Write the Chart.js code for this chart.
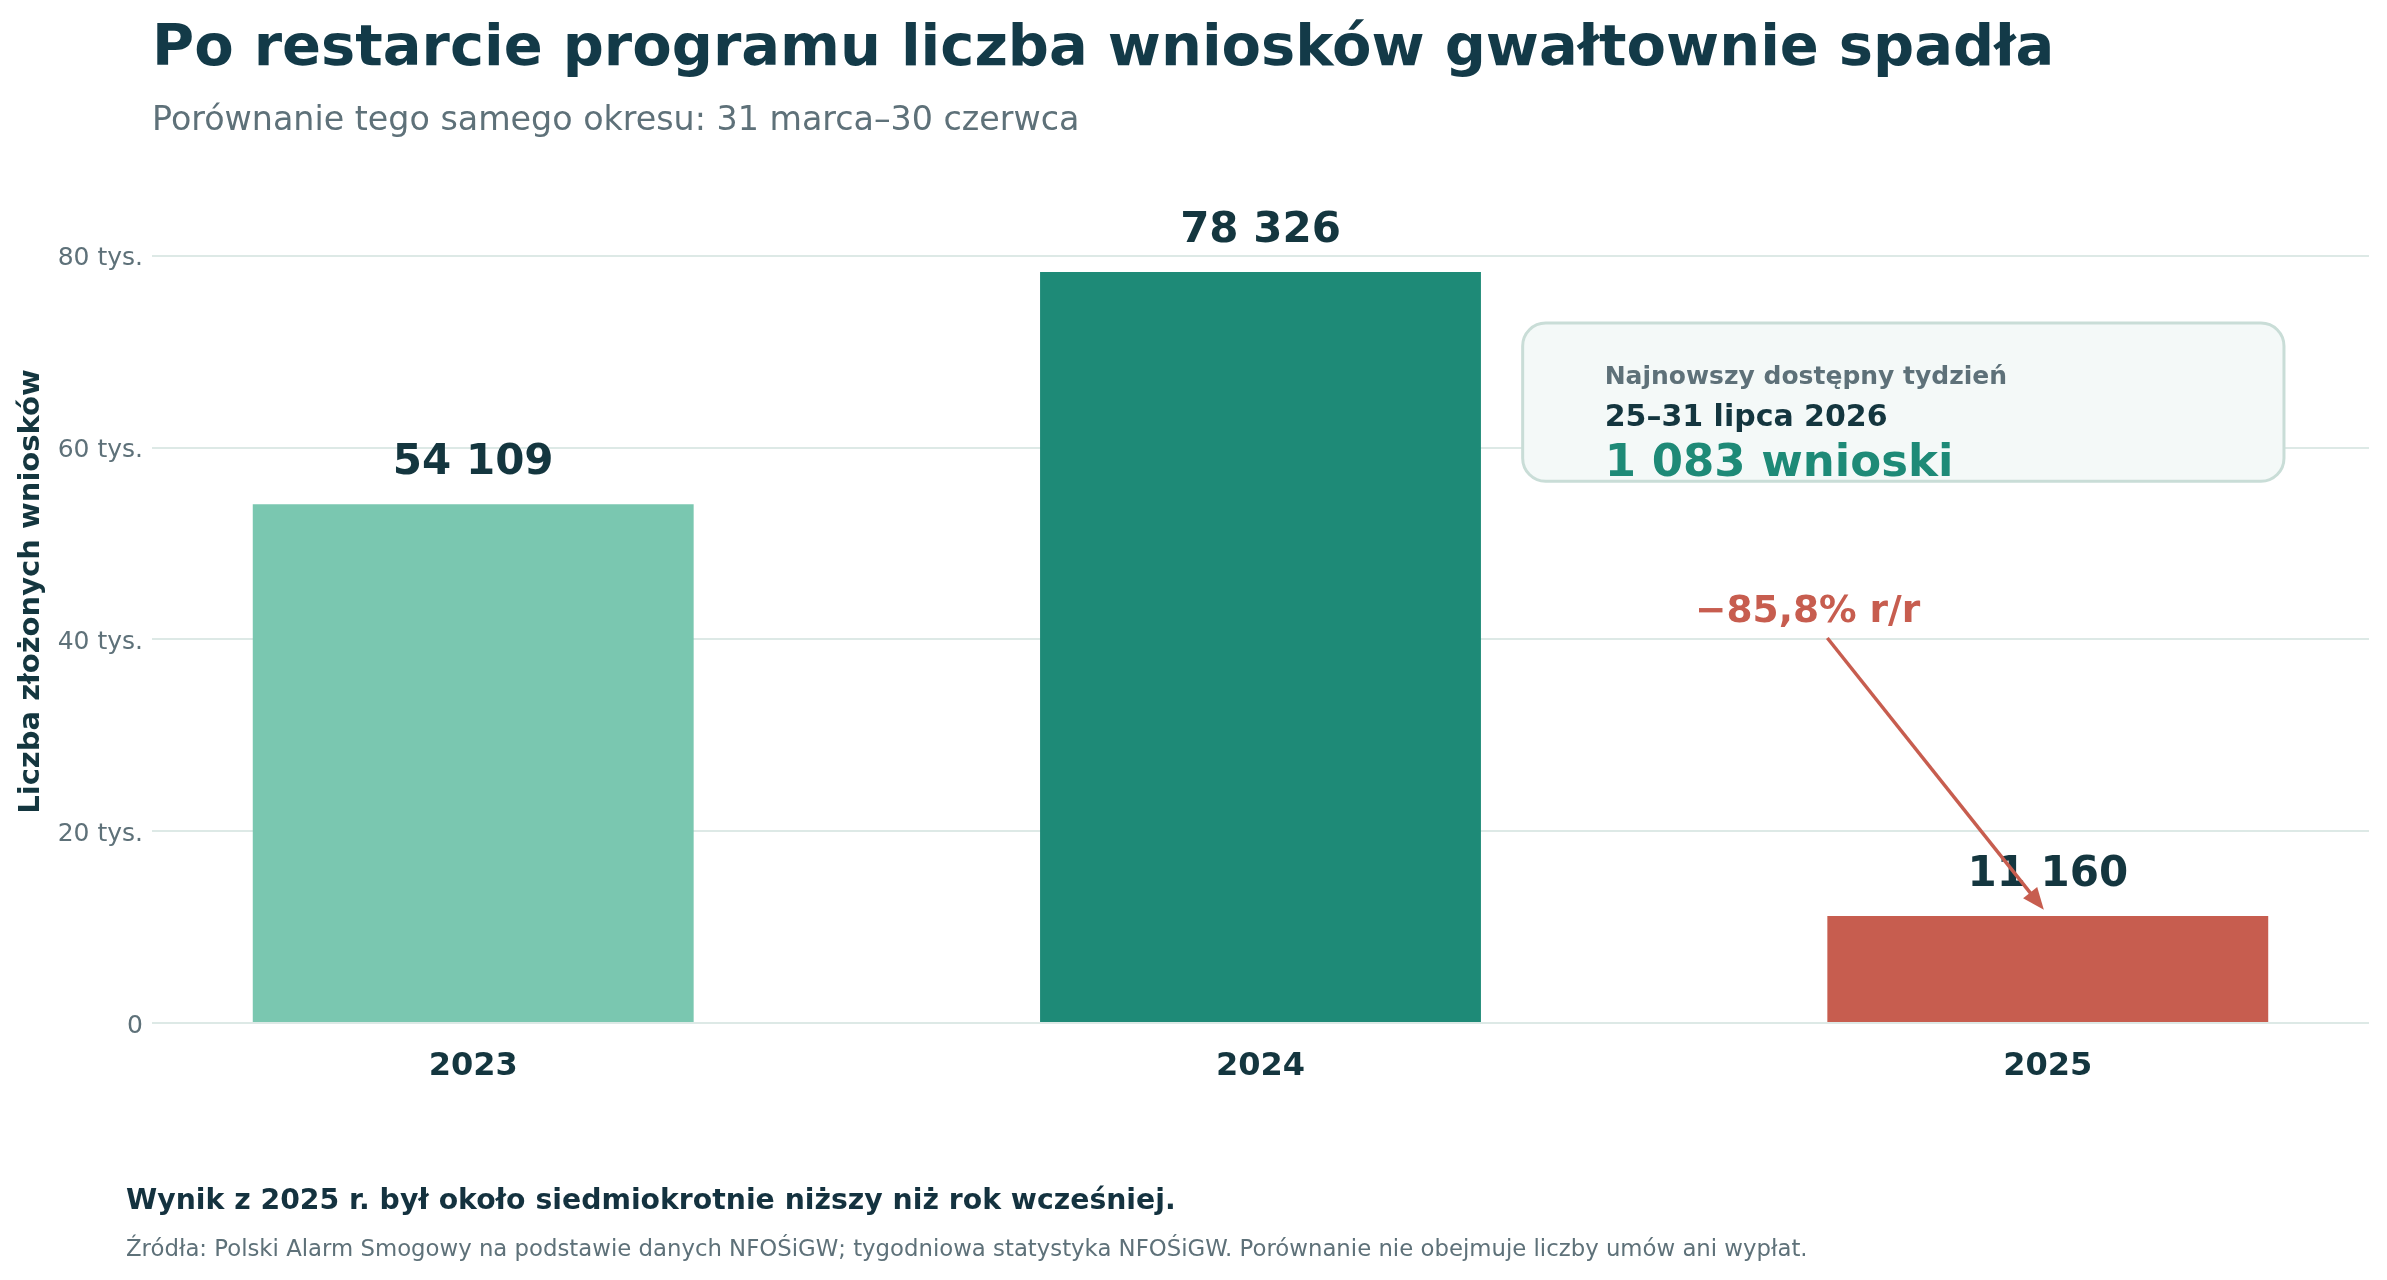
<!DOCTYPE html>
<html lang="pl">
<head>
<meta charset="utf-8">
<title>Liczba wniosków</title>
<script src="https://cdn.jsdelivr.net/npm/chart.js@4.4.1/dist/chart.umd.min.js"></script>
<style>
    html, body {
        margin: 0;
        padding: 0;
        background: #ffffff;
    }
    body {
        width: 2387px;
        height: 1280px;
        position: relative;
        overflow: hidden;
        font-family: "DejaVu Sans", sans-serif;
    }
    #chartBox {
        position: absolute;
        left: 0;
        top: 0;
        width: 2387px;
        height: 1280px;
    }
    .txt {
        position: absolute;
        white-space: nowrap;
        line-height: 1;
    }
    #title {
        left: 152px;
        top: 17px;
        font-size: 57.5px;
        font-weight: bold;
        color: #133a48;
    }
    #subtitle {
        left: 152px;
        top: 102px;
        font-size: 33.3px;
        color: #5e7179;
    }
    #note {
        left: 126px;
        top: 1186px;
        font-size: 28.3px;
        font-weight: bold;
        color: #14323f;
    }
    #source {
        left: 126px;
        top: 1237px;
        font-size: 22.8px;
        color: #5e7179;
    }
</style>
</head>
<body>
<div id="chartBox"><canvas id="applications"></canvas></div>
<div class="txt" id="title">Po restarcie programu liczba wniosków gwałtownie spadła</div>
<div class="txt" id="subtitle">Porównanie tego samego okresu: 31 marca–30 czerwca</div>
<div class="txt" id="note">Wynik z 2025 r. był około siedmiokrotnie niższy niż rok wcześniej.</div>
<div class="txt" id="source">Źródła: Polski Alarm Smogowy na podstawie danych NFOŚiGW; tygodniowa statystyka NFOŚiGW. Porównanie nie obejmuje liczby umów ani wypłat.</div>

<script>
// dane
const years = ['2023', '2024', '2025'];
const applications = [54109, 78326, 11160];
const yTicks = [0, 20000, 40000, 60000, 80000];

const latestWeekLabel = 'Najnowszy dostępny tydzień';
const latestWeekRange = '25–31 lipca 2026';
const latestWeekCount = '1 083 wnioski';
const changeLabel = '−85,8% r/r';

const barColors = ['#7ac7b0', '#1e8a77', '#c75d4f'];
const dark = '#14363f';
const gray = '#5e7179';
const font = '"DejaVu Sans", sans-serif';

function formatNumber(v) {
    return String(v).replace(/\B(?=(\d{3})+(?!\d))/g, ' ');
}

// etykiety nad słupkami
const valueLabels = {
    id: 'valueLabels',
    afterDatasetsDraw: function (chart) {
        let ctx = chart.ctx;
        let meta = chart.getDatasetMeta(0);
        ctx.save();
        ctx.font = 'bold 42px ' + font;
        ctx.fillStyle = dark;
        ctx.textAlign = 'center';
        ctx.textBaseline = 'middle';
        meta.data.forEach(function (bar, i) {
            ctx.fillText(formatNumber(applications[i]), bar.x, bar.y - 41);
        });
        ctx.restore();
    }
};

// ramka z ostatnim tygodniem i strzałka
const annotations = {
    id: 'annotations',
    afterDatasetsDraw: function (chart) {
        let ctx = chart.ctx;
        let x = chart.scales.x;
        let y = chart.scales.y;
        ctx.save();

        // ramka
        let bx1 = x.getPixelForValue(1.333);
        let bx2 = x.getPixelForValue(2.30);
        let by1 = y.getPixelForValue(73000);
        let by2 = y.getPixelForValue(56500);
        ctx.beginPath();
        ctx.roundRect(bx1, by1, bx2 - bx1, by2 - by1, 23);
        ctx.fillStyle = '#f4f9f8';
        ctx.fill();
        ctx.lineWidth = 3;
        ctx.strokeStyle = '#c9ddd7';
        ctx.stroke();

        ctx.textAlign = 'left';
        ctx.textBaseline = 'middle';
        ctx.font = 'bold 25px ' + font;
        ctx.fillStyle = gray;
        ctx.fillText(latestWeekLabel, bx1 + 82, by1 + 54);
        ctx.font = 'bold 30px ' + font;
        ctx.fillStyle = dark;
        ctx.fillText(latestWeekRange, bx1 + 82, by1 + 95);
        ctx.font = 'bold 45px ' + font;
        ctx.fillStyle = '#1e8a77';
        ctx.fillText(latestWeekCount, bx1 + 82, by1 + 141);

        // zmiana r/r
        ctx.textAlign = 'center';
        ctx.font = 'bold 37.5px ' + font;
        ctx.fillStyle = '#c75d4f';
        ctx.fillText(changeLabel, x.getPixelForValue(1.695), y.getPixelForValue(42850));

        let sx = x.getPixelForValue(1.72);
        let sy = y.getPixelForValue(40150);
        let ex = x.getPixelForValue(1.995);
        let ey = y.getPixelForValue(11800);
        let ang = Math.atan2(ey - sy, ex - sx);
        let head = 22;
        ctx.strokeStyle = '#c75d4f';
        ctx.lineWidth = 3.5;
        ctx.beginPath();
        ctx.moveTo(sx, sy);
        ctx.lineTo(ex - Math.cos(ang) * head * 0.8, ey - Math.sin(ang) * head * 0.8);
        ctx.stroke();
        ctx.beginPath();
        ctx.moveTo(ex, ey);
        ctx.lineTo(ex - head * Math.cos(ang) + 9 * Math.sin(ang), ey - head * Math.sin(ang) - 9 * Math.cos(ang));
        ctx.lineTo(ex - head * Math.cos(ang) - 9 * Math.sin(ang), ey - head * Math.sin(ang) + 9 * Math.cos(ang));
        ctx.closePath();
        ctx.fillStyle = '#c75d4f';
        ctx.fill();

        ctx.restore();
    }
};

let chartData = {
    datasets: [{
        data: applications.map(function (v, i) { return {x: i, y: v}; }),
        backgroundColor: barColors,
        borderWidth: 0,
        categoryPercentage: 1,
        barPercentage: 0.56
    }]
};

let chartOptions = {
    responsive: true,
    maintainAspectRatio: false,
    animation: false,
    layout: {
        padding: {top: 160, right: 18, bottom: 0, left: 0}
    },
    plugins: {
        legend: {display: false},
        tooltip: {enabled: false}
    },
    scales: {
        x: {
            type: 'linear',
            offset: false,
            min: -0.408,
            max: 2.408,
            grid: {display: false},
            border: {display: false},
            afterBuildTicks: function (scale) {
                scale.ticks = years.map(function (v, i) { return {value: i}; });
            },
            afterFit: function (scale) {
                scale.height = 257;
            },
            ticks: {
                padding: 20,
                color: dark,
                font: {family: font, size: 32, weight: 'bold', lineHeight: 1},
                callback: function (value) {
                    return years[value];
                }
            }
        },
        y: {
            min: 0,
            max: 90000,
            border: {display: false},
            grid: {
                color: '#dde9e6',
                lineWidth: 2,
                drawTicks: false
            },
            afterBuildTicks: function (scale) {
                scale.ticks = yTicks.map(function (v) { return {value: v}; });
            },
            afterFit: function (scale) {
                scale.width = 152;
            },
            ticks: {
                padding: 9,
                labelOffset: 3,
                color: gray,
                font: {family: font, size: 25, lineHeight: 1},
                callback: function (value) {
                    return value === 0 ? '0' : (value / 1000) + ' tys.';
                }
            },
            title: {
                display: true,
                text: 'Liczba złożonych wniosków',
                color: dark,
                padding: {top: 17, bottom: 0},
                font: {family: font, size: 29, weight: 'bold', lineHeight: 1}
            }
        }
    }
};

let canvas = document.getElementById('applications');
let chart = new Chart(canvas, {
    type: 'bar',
    data: chartData,
    options: chartOptions,
    plugins: [valueLabels, annotations]
});
</script>
</body>
</html>
